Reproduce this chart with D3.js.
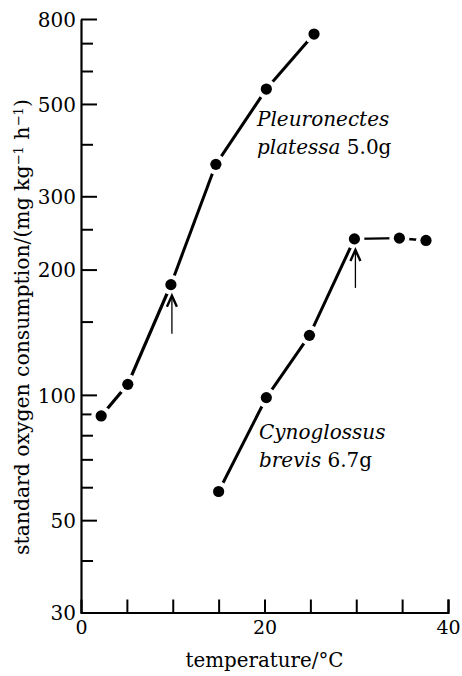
<!DOCTYPE html>
<html>
<head>
<meta charset="utf-8">
<script src="https://cdn.jsdelivr.net/npm/d3@7"></script>
<style>
  body { margin: 0; background: #fff; }
  svg { display: block; }
  text { font-family: "DejaVu Serif", serif; fill: #000; }
</style>
</head>
<body>
<div id="chart"></div>
<script>
// data (temperature in °C, oxygen consumption in mg kg-1 h-1)
let plaiceTemp = [2.2, 5.1, 9.8, 14.7, 20.2, 25.4];
let plaiceO2 = [89, 106, 184, 358, 543, 736];
let soleTemp = [15, 20.2, 24.9, 29.8, 34.7, 37.6];
let soleO2 = [58.6, 98.5, 139, 237, 238, 235];

// arrows mark the point where the curve breaks
let arrowTemp = [9.8, 29.8];
let arrowO2 = [184, 237];

let yMajor = [30, 50, 100, 200, 300, 500, 800];
let yMinor = [40, 60, 70, 80, 90, 150, 250, 400, 600, 700];
let xLabelTicks = [0, 20, 40];
let xAllTicks = [5, 10, 15, 20, 25, 30, 35, 40];

let areaWidth = 462;
let areaHeight = 676;
let border = { top: 19, left: 81, right: 14, bottom: 63.5 };
let width = areaWidth - border.left - border.right;
let height = areaHeight - border.top - border.bottom;

let svg = d3.select("#chart").append("svg")
  .attr("width", areaWidth)
  .attr("height", areaHeight);

let plotGroup = svg.append("g")
  .attr("transform", `translate(${border.left}, ${border.top})`);

let xScale = d3.scaleLinear().domain([0, 40]).range([0, width]);
let yScale = d3.scaleLog().domain([30, 800]).range([height, 0]);

// minor y ticks (inward, no labels)
plotGroup.append("g")
  .call(d3.axisLeft(yScale).tickValues(yMinor).tickSize(-12).tickFormat(""))
  .call(g => g.select(".domain").remove())
  .call(g => g.selectAll("line").attr("stroke-width", 2));

// major y ticks with labels
let yAx = plotGroup.append("g")
  .call(d3.axisLeft(yScale).tickValues(yMajor).tickSizeInner(-16).tickSizeOuter(0)
    .tickPadding(5).tickFormat(d3.format("d")));
yAx.select(".domain").attr("stroke-width", 2.2);
yAx.selectAll("line").attr("stroke-width", 2);
yAx.selectAll("text").attr("font-size", 20).attr("font-family", "DejaVu Serif").attr("dy", "0.36em");

// x ticks (inward)
plotGroup.append("g")
  .attr("transform", `translate(0, ${height})`)
  .call(d3.axisBottom(xScale).tickValues(xAllTicks).tickSize(-13).tickFormat(""))
  .call(g => g.select(".domain").attr("stroke-width", 2.2))
  .call(g => g.selectAll("line").attr("stroke-width", 2));

plotGroup.append("g")
  .attr("transform", `translate(0, ${height})`)
  .call(d3.axisBottom(xScale).tickValues(xLabelTicks).tickSize(0).tickPadding(7).tickFormat(d3.format("d")))
  .call(g => g.select(".domain").remove())
  .call(g => g.selectAll("text").attr("font-size", 19).attr("font-family", "DejaVu Serif").attr("dy", "0.75em"));

// scale a title's font so it spans the same length as in the figure
function fitText(sel, target, base) {
  let len = sel.node().getComputedTextLength();
  sel.attr("font-size", base * target / len);
}

// axis titles
let xTitle = svg.append("text")
  .attr("x", border.left + width / 2)
  .attr("y", 667)
  .attr("text-anchor", "middle")
  .attr("font-size", 17)
  .text("temperature/°C");
fitText(xTitle, 158, 17);

let yTitle = svg.append("text")
  .attr("transform", "translate(29, 327) rotate(-90)")
  .attr("text-anchor", "middle")
  .attr("font-size", 17);
yTitle.append("tspan").text("standard oxygen consumption/(mg kg");
yTitle.append("tspan").attr("dy", "-0.42em").attr("font-size", "0.65em").text("−1");
yTitle.append("tspan").attr("dy", "0.27em").text(" h");
yTitle.append("tspan").attr("dy", "-0.42em").attr("font-size", "0.65em").text("−1");
yTitle.append("tspan").attr("dy", "0.27em").text(")");
fitText(yTitle, 456, 17);

// series
let line = d3.line().x(d => xScale(d[0])).y(d => yScale(d[1]));

function drawSeries(temps, values, widths) {
  let pts = temps.map((t, i) => [t, values[i]]);
  let g = plotGroup.append("g");
  for (let i = 0; i < pts.length - 1; i++) {
    g.append("path")
      .attr("d", line([pts[i], pts[i + 1]]))
      .attr("fill", "none")
      .attr("stroke", "#000")
      .attr("stroke-width", widths[i]);
  }
  g.selectAll(".halo").data(pts).enter().append("circle")
    .attr("cx", d => xScale(d[0]))
    .attr("cy", d => yScale(d[1]))
    .attr("r", 10)
    .attr("fill", "#fff");
  g.selectAll(".dot").data(pts).enter().append("circle")
    .attr("cx", d => xScale(d[0]))
    .attr("cy", d => yScale(d[1]))
    .attr("r", 5.6)
    .attr("fill", "#000");
}

drawSeries(plaiceTemp, plaiceO2, [3.2, 3.2, 3, 3, 3]);
drawSeries(soleTemp, soleO2, [3, 3, 3, 2.2, 2.5]);

// arrows pointing up at the break points
arrowTemp.forEach((t, i) => {
  let ax = xScale(t) + 1;
  let ay = yScale(arrowO2[i]) + 11;
  let a = plotGroup.append("g").attr("stroke", "#000").attr("fill", "none");
  a.append("line").attr("x1", ax).attr("x2", ax).attr("y1", ay).attr("y2", ay + 38).attr("stroke-width", 1.3);
  a.append("path")
    .attr("d", `M${ax - 5},${ay + 11} L${ax},${ay} L${ax + 5},${ay + 11}`)
    .attr("stroke-width", 2.4)
    .attr("stroke-linejoin", "miter");
});

// species labels
function speciesLabel(x, y, name, species, mass) {
  let t = svg.append("text").attr("font-size", 20);
  t.append("tspan").attr("x", x).attr("y", y).attr("font-style", "italic").text(name);
  let l2 = svg.append("text").attr("font-size", 20);
  l2.append("tspan").attr("x", x).attr("y", y + 28).attr("font-style", "italic").text(species);
  l2.append("tspan").text(" " + mass);
}
speciesLabel(257, 126, "Pleuronectes", "platessa", "5.0g");
speciesLabel(259, 439, "Cynoglossus", "brevis", "6.7g");
</script>
</body>
</html>
